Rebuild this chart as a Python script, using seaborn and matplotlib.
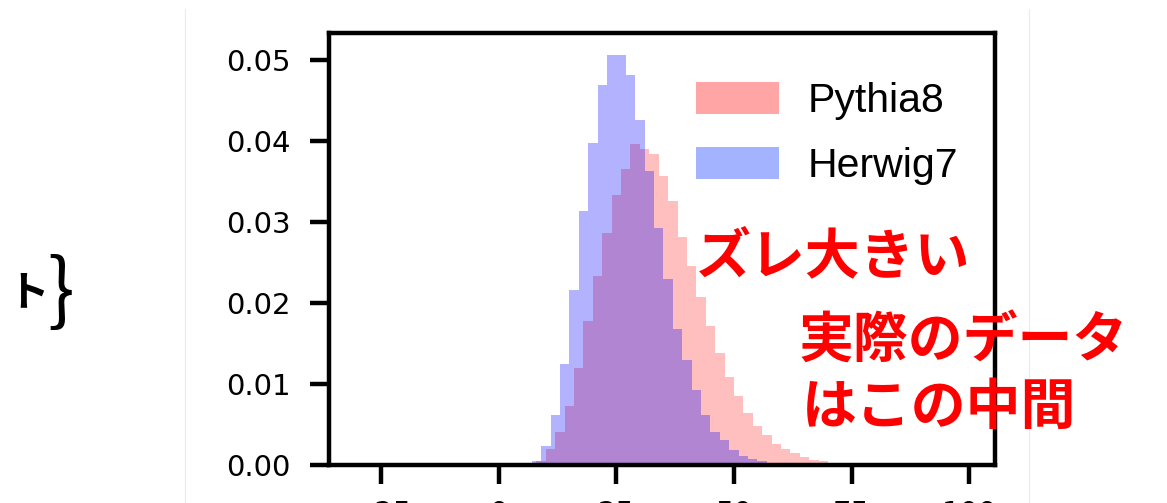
import numpy as np
import pandas as pd
import matplotlib
matplotlib.use("Agg")
import matplotlib.pyplot as plt
from matplotlib.patches import Patch
from matplotlib.lines import Line2D
from matplotlib.font_manager import FontProperties
import seaborn as sns

# Normalised event distributions, 2-unit bins
bin_width = 2
pythia8_first_edge = 8
herwig7_first_edge = 7
pythia8 = [0.0005, 0.0019, 0.0041, 0.0072, 0.0119, 0.0178, 0.0233, 0.0286,
           0.0333, 0.0366, 0.0396, 0.0390, 0.0384, 0.0357, 0.0326, 0.0282,
           0.0245, 0.0207, 0.0171, 0.0138, 0.0109, 0.0085, 0.0064, 0.0048,
           0.0037, 0.0026, 0.0019, 0.0014, 0.0010, 0.0006, 0.0004, 0.0002]
herwig7 = [0.0005, 0.0023, 0.0062, 0.0125, 0.0216, 0.0313, 0.0398, 0.0469,
           0.0507, 0.0506, 0.0482, 0.0426, 0.0363, 0.0292, 0.0229, 0.0168,
           0.0130, 0.0092, 0.0061, 0.0041, 0.0030, 0.0018, 0.0011, 0.0007,
           0.0004]
series_names = ["Pythia8", "Herwig7"]
x_ticks = [-25, 0, 25, 50, 75, 100]
y_ticks = [0.00, 0.01, 0.02, 0.03, 0.04, 0.05]
note_top = "ズレ大きい"
note_bottom = ["実際のデータ", "はこの中間"]

sns.set_style("ticks")
plt.rcParams["font.family"] = ["DejaVu Sans"]
plt.rcParams["text.color"] = "black"

W, H = 1167, 503
fig = plt.figure(figsize=(W / 100, H / 100), dpi=100)
fig.patch.set_facecolor("white")
ax = fig.add_axes([328.5 / W, 1 - 464.7 / H, (995 - 328.5) / W, (464.7 - 32.7) / H])


def binned_frame(first, values):
    n = len(values)
    centers = first + bin_width * (np.arange(n) + 0.5)
    return pd.DataFrame({"x": centers, "w": values}), (first, first + bin_width * n)


p_df, p_range = binned_frame(pythia8_first_edge, pythia8)
h_df, h_range = binned_frame(herwig7_first_edge, herwig7)

sns.histplot(data=p_df, x="x", weights="w", binwidth=bin_width, binrange=p_range,
             stat="count", color="red", alpha=0.25, linewidth=0, ax=ax)
sns.histplot(data=h_df, x="x", weights="w", binwidth=bin_width, binrange=h_range,
             stat="count", color="blue", alpha=0.3, linewidth=0, ax=ax)

ax.set_xlim(-36.2, 105.5)
ax.set_ylim(0, 0.0534)
ax.set_xticks(x_ticks)
ax.set_yticks(y_ticks)
ax.set_yticklabels([f"{v:.2f}" for v in y_ticks])
ax.set_xlabel("")
ax.set_ylabel("")
for sp in ax.spines.values():
    sp.set_visible(True)
    sp.set_linewidth(3.2)
    sp.set_color("black")
ax.tick_params(axis="both", direction="out", length=13.5, width=3.2,
               color="black", labelcolor="black", labelsize=21)
ax.tick_params(axis="y", pad=14)
ax.tick_params(axis="x", pad=12)

# legend
handles = [Patch(facecolor="#ffa5a5", edgecolor="none"),
           Patch(facecolor="#a3b3ff", edgecolor="none")]
leg = ax.legend(handles, series_names, loc="upper left",
                bbox_to_anchor=(695.7 / W, 1 - 82 / H), bbox_transform=fig.transFigure,
                frameon=False, borderpad=0, borderaxespad=0, handlelength=2.03,
                handleheight=0.82, handletextpad=0.7, labelspacing=0.65,
                prop=FontProperties(family="Liberation Sans", size=29.5))
for t in leg.get_texts():
    t.set_color("black")

# annotations
jp = dict(family=["Noto Sans CJK JP", "DejaVu Sans"], weight="bold",
          color="#ff0000", fontsize=39.5, va="center", ha="left")
fig.text(696 / W, 1 - 257 / H, note_top, **jp)
fig.text(799 / W, 1 - 341 / H, note_bottom[0], **jp)
fig.text(802 / W, 1 - 407 / H, note_bottom[1], **jp)

# clipped label on the left edge
fig.text(28 / W, 1 - 293 / H, "ト", family=["Noto Sans CJK JP", "DejaVu Sans"],
         fontsize=30, weight="bold", ha="center", va="center", color="black")
fig.text(61 / W, 1 - 294 / H, "}", family=["Noto Sans CJK JP", "DejaVu Sans"],
         fontsize=57, ha="center", va="center", color="black")

# faint frame lines
for xp in (184.5, 1028.5):
    fig.add_artist(Line2D([xp / W, xp / W], [0, 1 - 9 / H], transform=fig.transFigure,
                          color="#ebebeb", linewidth=0.8))

fig.savefig("out.png", dpi=100, facecolor="white")
